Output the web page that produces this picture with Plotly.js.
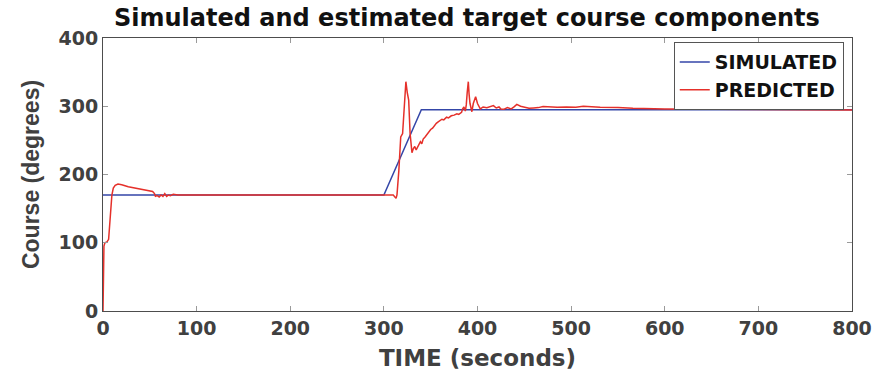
<!DOCTYPE html>
<html>
<head>
<meta charset="utf-8">
<script src="https://cdn.plot.ly/plotly-3.0.1.min.js"></script>
<style>html,body{margin:0;padding:0;background:#fff;}#chart{width:876px;height:379px;}</style>
</head>
<body>
<div id="chart"></div>
<script>
const simTime = [0, 300, 340, 800];
const simCourse = [170, 170, 295, 295];

const predTime = [0, 1, 2, 4, 6, 8, 9.5, 11, 13, 16, 20, 27, 37, 45, 50, 53, 55, 56, 58, 60, 62, 64, 66, 68, 70, 72, 75, 80, 90, 100, 150, 200, 250, 300, 310, 313, 314, 316, 318, 320, 322, 323.5, 325, 326.5, 328, 330, 331.5, 333, 334.5, 336, 337.5, 339, 340.5, 342, 344, 346, 348, 350, 352, 354, 356, 358, 360, 362, 364, 367, 369, 372, 375, 378, 380, 383, 384, 385.5, 387, 388, 389, 390.2, 391, 392, 394, 395.5, 398, 400, 403, 406, 410, 414, 417, 420, 423, 425, 428, 432, 436, 439, 442, 446, 450, 455, 460, 465, 470, 478, 485, 495, 505, 513, 522, 531, 550, 566, 600, 650, 700, 750, 800];
const predCourse = [0, 95, 100, 101, 105, 140, 170, 180, 184, 186, 185, 182, 179, 177, 176, 175, 172, 168, 169, 167, 170, 168, 172, 168, 170, 169, 171, 170, 170, 170, 169.5, 169, 169.5, 170, 170, 165, 170, 206, 255, 260, 300, 336, 320, 309, 260, 232, 238, 241, 236, 240, 246, 248, 245, 252, 255, 259, 262, 266, 268, 272, 275, 277, 279, 281, 280, 284, 283, 286, 287, 289, 288, 291, 296, 299, 293, 302, 320, 336, 318, 304, 292, 304, 314, 304, 296, 299, 298, 300, 301, 297.5, 299, 296, 295.5, 298, 296, 299, 302.7, 300, 298.5, 297, 297.6, 298, 299.5, 299, 298.5, 299, 298.5, 300, 299, 298.5, 298, 297, 296, 295.5, 295, 295, 294.5];

const xTicks = [0, 100, 200, 300, 400, 500, 600, 700, 800];
const yTicks = [0, 100, 200, 300, 400];

const hFont = 'DejaVu Sans, sans-serif';

const traces = [
  {x: simTime, y: simCourse, mode: 'lines', name: 'SIMULATED', line: {color: '#3446a8', width: 1.5}},
  {x: predTime, y: predCourse, mode: 'lines', name: 'PREDICTED', line: {color: '#e5302a', width: 1.5}}
];

const axisCommon = {
  showgrid: false, zeroline: false, showline: true, mirror: 'ticks',
  linecolor: '#4d4d4d', linewidth: 1, ticks: 'inside', ticklen: 5, tickcolor: '#9a9a9a',
  tickfont: {family: hFont, size: 19, color: '#404040', weight: 'bold'}
};

const layout = {
  width: 876, height: 379,
  margin: {l: 103, r: 24, t: 38, b: 68},
  paper_bgcolor: '#fff', plot_bgcolor: '#fff',
  showlegend: true,
  title: {text: 'Simulated and estimated target course components', x: 0.533, xanchor: 'center', xref: 'container',
          y: 1 - 18/379, yanchor: 'middle', yref: 'container',
          font: {family: hFont, size: 24, color: '#111', weight: 'bold'}},
  xaxis: Object.assign({}, axisCommon, {range: [0, 800], tickvals: xTicks, ticktext: xTicks.map(String),
          title: {text: 'TIME (seconds)', standoff: 12, font: {family: hFont, size: 23, color: '#404040', weight: 'bold'}}}),
  yaxis: Object.assign({}, axisCommon, {range: [0, 400], tickvals: yTicks, ticktext: yTicks.map(String),
          title: {text: 'Course (degrees)', standoff: 12, font: {family: 'Liberation Sans, Arial, sans-serif', size: 23, color: '#404040', weight: 'bold'}}}),
  legend: {x: 0.989, xanchor: 'right', y: 0.985, yanchor: 'top', bgcolor: '#fff', bordercolor: '#555', borderwidth: 1,
           font: {family: hFont, size: 19, color: '#111', weight: 'bold'}, itemwidth: 30, tracegroupgap: 0}
};

Plotly.newPlot('chart', traces, layout, {displayModeBar: false, staticPlot: true});
</script>
</body>
</html>
